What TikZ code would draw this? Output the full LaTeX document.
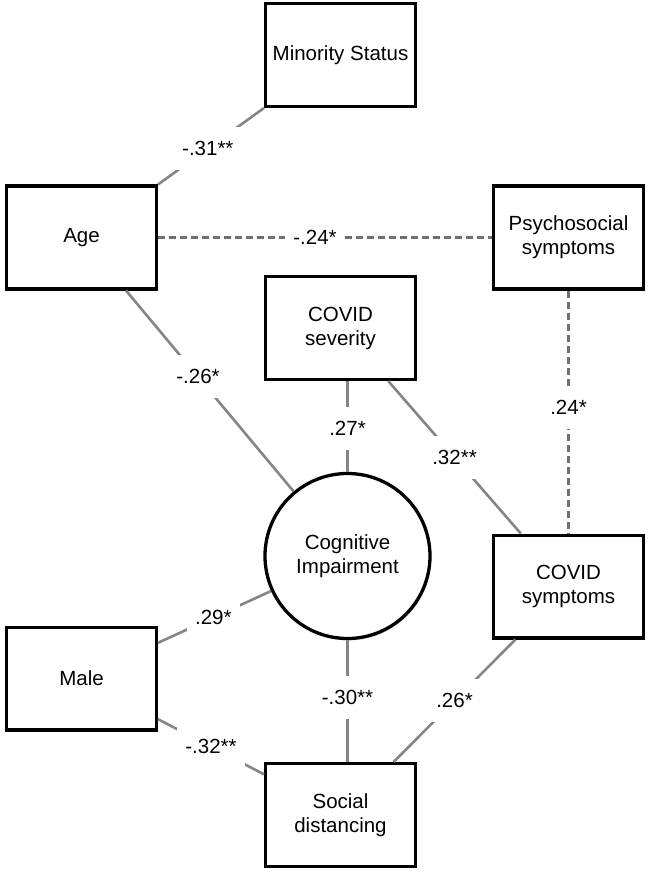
\documentclass[tikz,border=0pt]{standalone}
\usepackage{fontspec}
\setmainfont{Liberation Sans}
\usetikzlibrary{shadows}
\definecolor{linegray}{HTML}{858585}
\definecolor{dashgray}{HTML}{707070}
\tikzset{
  varbox/.style={draw=black, line width=3.3pt, fill=white, minimum width=149.7pt, minimum height=102.7pt,
    align=center, font=\fontsize{20.5}{24}\selectfont, inner sep=2pt,
    drop shadow={shadow xshift=1.2pt, shadow yshift=-1.8pt, opacity=0.35, fill=black!50}},
  latent/.style={draw=black, line width=3.3pt, fill=white, circle, minimum size=165pt,
    align=center, font=\fontsize{20.5}{24}\selectfont, inner sep=0pt,
    drop shadow={shadow xshift=1.2pt, shadow yshift=-1.8pt, opacity=0.35, fill=black!50}},
  path/.style={draw=linegray, line width=2.6pt},
  dpath/.style={draw=dashgray, line width=3pt, dash pattern=on 7pt off 4pt},
  coef/.style={fill=white, font=\fontsize{20.5}{24}\selectfont, inner xsep=8pt, minimum height=43pt, text=black}
}
\begin{document}
\begin{tikzpicture}[x=1pt, y=-1pt]
\useasboundingbox[fill=white] (0,0) rectangle (650,877);
% paths first (drawn under the nodes)
\node[varbox] (min) at (340.5,55) {Minority Status};
\node[varbox] (age) at (81.5,237.5) {Age};
\node[varbox] (psy) at (568.5,237.5) {Psychosocial\\symptoms};
\node[varbox] (sev) at (340.5,328) {COVID\\severity};
\node[latent] (cog) at (347.5,556) {Cognitive\\Impairment};
\node[varbox] (sym) at (568.5,586.5) {COVID\\symptoms};
\node[varbox] (male) at (81.5,678.5) {Male};
\node[varbox] (soc) at (340.5,815) {Social\\distancing};

\draw[path] (min.south west) -- node[coef, pos=0.53] (l1) {-.31**} (age.north east);
\draw[dpath] (age) -- node[coef, pos=0.47] (l2) {-.24*} (psy);
\draw[path] (age.-50) -- node[coef, pos=0.43] (l3) {-.26*} (cog);
\draw[path] (sev.south -| cog) -- node[coef, pos=0.52] (l4) {.27*} (cog);
\draw[path] (sev.-48) -- node[coef, pos=0.5] (l5) {.32**} (sym.132);
\draw[dpath] (psy) -- node[coef, pos=0.48] (l6) {.24*} (sym);
\draw[path] (male.25) -- node[coef, pos=0.49] (l7) {.29*} (cog);
\draw[path] (male.-28) -- node[coef, pos=0.5] (l8) {-.32**} (soc.152);
\draw[path] (cog) -- node[coef, pos=0.47] (l9) {-.30**} (cog |- soc.north);
\draw[path] (sym.-135) -- node[coef, pos=0.5] (l10) {.26*} (soc.45);
\end{tikzpicture}
\end{document}
